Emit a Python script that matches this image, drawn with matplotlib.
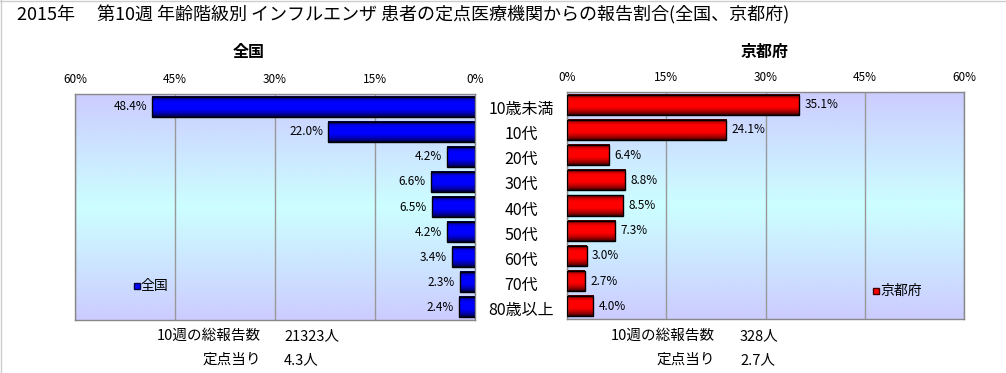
import numpy as np
import matplotlib
matplotlib.use("Agg")
import matplotlib.pyplot as plt
from matplotlib import transforms

plt.rcParams['font.family'] = ['Noto Sans CJK JP', 'DejaVu Sans']

# data
ages = ['10歳未満', '10代', '20代', '30代', '40代', '50代', '60代', '70代', '80歳以上']
zenkoku = [48.4, 22.0, 4.2, 6.6, 6.5, 4.2, 3.4, 2.3, 2.4]
kyoto = [35.1, 24.1, 6.4, 8.8, 8.5, 7.3, 3.0, 2.7, 4.0]
ticks = [0, 15, 30, 45, 60]
title = '2015年　 第10週 年齢階級別 インフルエンザ 患者の定点医療機関からの報告割合(全国、京都府)'
notes_zenkoku = ('21323人', '4.3人')
notes_kyoto = ('328人', '2.7人')

W, H = 1006, 373
fig = plt.figure(figsize=(W / 100, H / 100), dpi=100)


def px_axes(left, top, right, bottom):
    return fig.add_axes([left / W, 1 - bottom / H, (right - left) / W, (bottom - top) / H])


def background(ax):
    c_edge = np.array([204, 204, 255]) / 255
    c_mid = np.array([204, 255, 255]) / 255
    t = np.abs(np.linspace(-1, 1, 200))[:, None]
    grad = c_mid * (1 - t) + c_edge * t
    ax.imshow(grad.reshape(200, 1, 3), extent=[0, 1, 0, 1], transform=ax.transAxes,
              aspect='auto', zorder=0, interpolation='bilinear')


def shade_bars(ax, bars, base):
    # dark at the top and bottom, bright band a bit above the middle
    prof = np.linspace(0, 1, 60)
    inten = np.clip(np.sin(np.pi * prof ** 0.85) ** 0.7 * 1.08, 0, 1) * 0.85 + 0.15
    for b in bars:
        x0, y0 = b.get_x(), b.get_y()
        w, h = b.get_width(), b.get_height()
        img = inten[:, None, None] * np.array(base)[None, None, :]
        ax.imshow(img, extent=[x0, x0 + w, y0 + h, y0], aspect='auto', zorder=2,
                  interpolation='bilinear')
        b.set_facecolor('none')
        b.set_zorder(3)


def style(ax):
    ax.set_xlim(0, 60)
    ax.set_ylim(len(ages) - 0.5, -0.5)
    ax.xaxis.tick_top()
    ax.set_xticks(ticks)
    ax.set_xticklabels([f'{t}%' for t in ticks], fontsize=8.5)
    ax.tick_params(axis='x', length=0, pad=6)
    ax.set_yticks([])
    ax.grid(axis='x', color='#999999', linewidth=1, zorder=1)
    ax.set_axisbelow(True)
    for s in ax.spines.values():
        s.set_color('#888888')
        s.set_linewidth(1)


y = np.arange(len(ages))

# 全国 (left, reversed)
ax1 = px_axes(75, 94, 475, 320)
background(ax1)
bars1 = ax1.barh(y, zenkoku, height=0.8, edgecolor='black', linewidth=1)
shade_bars(ax1, bars1, (0, 0, 1))
style(ax1)
ax1.set_xlim(60, 0)
for yi, v in zip(y, zenkoku):
    ax1.text(v + 0.8, yi, f'{v:.1f}%', ha='right', va='center', fontsize=8.5, zorder=4)
ax1.plot([0.155], [0.15], marker='s', ms=5, mfc='#0000ff', mec='#000044', transform=ax1.transAxes)
ax1.text(0.163, 0.15, '全国', transform=ax1.transAxes, ha='left', va='center', fontsize=10)

# 京都府 (right)
ax2 = px_axes(567, 92, 964, 319)
background(ax2)
bars2 = ax2.barh(y, kyoto, height=0.8, edgecolor='black', linewidth=1)
shade_bars(ax2, bars2, (1, 0, 0))
style(ax2)
for yi, v in zip(y, kyoto):
    ax2.text(v + 0.8, yi, f'{v:.1f}%', ha='left', va='center', fontsize=8.5, zorder=4)
ax2.plot([0.778], [0.123], marker='s', ms=5, mfc='#ff0000', mec='#440000', transform=ax2.transAxes)
ax2.text(0.79, 0.123, '京都府', transform=ax2.transAxes, ha='left', va='center', fontsize=10)

# category labels between the two panels
tr = transforms.blended_transform_factory(fig.transFigure, ax1.transData)
for yi, lab in zip(y, ages):
    ax1.text(521 / W, yi + 0.12, lab, transform=tr, ha='center', va='center', fontsize=11.5,
             clip_on=False)

# titles
fig.text(17 / W, 1 - 15 / H, title, ha='left', va='center', fontsize=13)
fig.text(249 / W, 1 - 52 / H, '全国', ha='center', va='center', fontsize=11.5, fontweight='bold')
fig.text(765 / W, 1 - 52 / H, '京都府', ha='center', va='center', fontsize=11.5, fontweight='bold')

# notes under the panels
for xr, xv, vals in [(261, 284, notes_zenkoku), (715, 740, notes_kyoto)]:
    fig.text(xr / W, 1 - 336 / H, '10週の総報告数', ha='right', va='center', fontsize=10.5)
    fig.text(xv / W, 1 - 336 / H, vals[0], ha='left', va='center', fontsize=10.5)
    fig.text(xr / W, 1 - 360 / H, '定点当り', ha='right', va='center', fontsize=10.5)
    fig.text(xv / W, 1 - 360 / H, vals[1], ha='left', va='center', fontsize=10.5)

fig.add_artist(plt.Line2D([0, 1], [1 - 0.5 / H, 1 - 0.5 / H], color='#cccccc', linewidth=1))
fig.add_artist(plt.Line2D([0.5 / W, 0.5 / W], [0, 1], color='#cccccc', linewidth=1))

fig.savefig('out.png', dpi=100)
